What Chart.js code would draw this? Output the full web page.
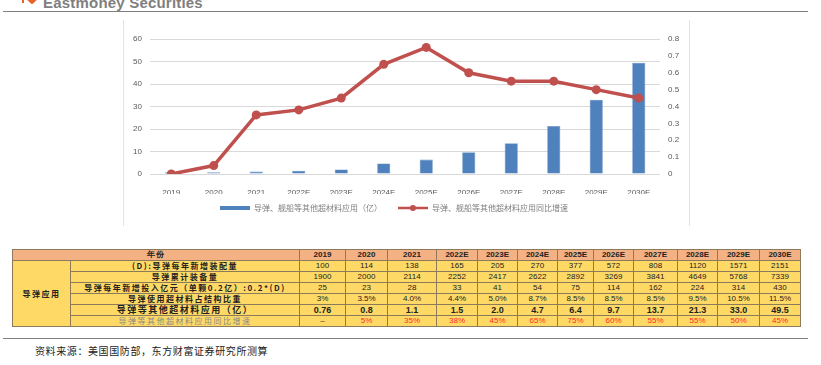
<!DOCTYPE html>
<html>
<head>
<meta charset="utf-8">
<script src="https://cdn.jsdelivr.net/npm/chart.js@4.4.0/dist/chart.umd.min.js"></script>
<style>
  html, body { margin: 0; padding: 0; background: #fff; }
  body { width: 821px; height: 365px; position: relative; overflow: hidden; font-family: "Liberation Sans", Arial, sans-serif; }
  #brand { position: absolute; left: 43px; top: -6px; font: bold 15px "Liberation Sans", Arial, sans-serif; color: #7f7f7f; letter-spacing: 0.2px; }
  #logo { position: absolute; left: 28px; top: -5px; width: 8px; height: 8px; background: #e8632a; transform: rotate(45deg); border-radius: 0 0 2px 0; }
  #logo2 { position: absolute; left: 22px; top: 0px; width: 2px; height: 3px; background: #e8632a; }
  #topline { position: absolute; left: 3px; top: 11px; width: 805px; height: 0; border-top: 1.5px solid #808080; }
  #chartbox { position: absolute; left: 123px; top: 20px; width: 565px; height: 206px; border-left: 1px solid #e3e3e3; border-right: 1px solid #e3e3e3; }
  #wrap { position: absolute; left: 123px; top: 22px; width: 566px; height: 200px; }
  table { position: absolute; left: 12px; top: 249px; border-collapse: collapse; table-layout: fixed; width: 788px; }
  td { height: 10px; padding: 0; border: 1px solid #8c7a5b; background: #ffd966; text-align: center; vertical-align: middle; font-size: 8px; line-height: 10px; color: #222; white-space: nowrap; overflow: hidden; font-family: "Liberation Sans", Arial, sans-serif; }
  tr.head td { background: #f4b183; font-weight: bold; font-family: "Liberation Sans", Arial, sans-serif; }
  td.cn { font-family: "Noto Sans CJK SC", sans-serif; font-weight: bold; letter-spacing: 1.5px; }
  tr.bold td { font-weight: bold; font-size: 9px; }
  tr.growth td { color: #ff2a2a; }
  tr.growth td.cn { color: #8a8a8a; font-weight: normal; }
  tr.growth td.dash { color: #333; }
  #botline { position: absolute; left: 3px; top: 338px; width: 805px; height: 0; border-top: 1.5px solid #808080; }
  #source { position: absolute; left: 35px; top: 343px; font: 10px "Noto Sans CJK SC", sans-serif; color: #222; letter-spacing: 0.6px; }
</style>
</head>
<body>
<div id="logo2"></div>
<div id="logo"></div>
<div id="brand">Eastmoney Securities</div>
<div id="topline"></div>
<div id="chartbox"></div>
<div id="wrap"><canvas id="c"></canvas></div>
<table id="tbl"></table>
<div id="botline"></div>
<div id="source">资料来源：美国国防部，东方财富证券研究所测算</div>
<script>
// ---- data ----
const categories = ["2019","2020","2021","2022E","2023E","2024E","2025E","2026E","2027E","2028E","2029E","2030E"];
const applicationValue = [0.76, 0.8, 1.1, 1.5, 2.0, 4.7, 6.4, 9.7, 13.7, 21.3, 33.0, 49.5];
const growthRate = [0, 0.05, 0.35, 0.38, 0.45, 0.65, 0.75, 0.60, 0.55, 0.55, 0.50, 0.45];
const barLabel = "导弹、舰船等其他超材料应用（亿）";
const lineLabel = "导弹、舰船等其他超材料应用同比增速";
const leftTicks = [0, 10, 20, 30, 40, 50, 60];
const rightTicks = [0, 0.1, 0.2, 0.3, 0.4, 0.5, 0.6, 0.7, 0.8];

const yearHeader = "年份";
const groupLabel = "导弹应用";
const rowLabels = ["(D):导弹每年新增装配量","导弹累计装备量","导弹每年新增投入亿元（单颗0.2亿）:0.2*(D)","导弹使用超材料占结构比重","导弹等其他超材料应用（亿）","导弹等其他超材料应用同比增速"];
const newUnits = ["100","114","138","165","205","270","377","572","808","1120","1571","2151"];
const cumulativeUnits = ["1900","2000","2114","2252","2417","2622","2892","3269","3841","4649","5768","7339"];
const investment = ["25","23","28","33","41","54","75","114","162","224","314","430"];
const materialShare = ["3%","3.5%","4.0%","4.4%","5.0%","8.7%","8.5%","8.5%","8.5%","9.5%","10.5%","11.5%"];
const applicationText = ["0.76","0.8","1.1","1.5","2.0","4.7","6.4","9.7","13.7","21.3","33.0","49.5"];
const growthText = ["–","5%","35%","38%","45%","65%","75%","60%","55%","55%","50%","45%"];

// ---- table ----
const colWidths = [58, 229, 46, 42, 49, 41, 40, 40, 36, 40, 44, 40, 42, 41];
const tbl = document.getElementById('tbl');
const cg = document.createElement('colgroup');
colWidths.forEach(w => { const c = document.createElement('col'); c.style.width = w + 'px'; cg.appendChild(c); });
tbl.appendChild(cg);
function addRow(cls, cells) {
  const tr = document.createElement('tr');
  if (cls) tr.className = cls;
  cells.forEach(c => {
    const td = document.createElement('td');
    td.textContent = c.t;
    if (c.cls) td.className = c.cls;
    if (c.cs) td.colSpan = c.cs;
    if (c.rs) td.rowSpan = c.rs;
    tr.appendChild(td);
  });
  tbl.appendChild(tr);
}
addRow('head', [{t: yearHeader, cs: 2, cls: 'cn'}].concat(categories.map(t => ({t}))));
const rowsData = [newUnits, cumulativeUnits, investment, materialShare, applicationText, growthText];
const rowCls = ['', '', '', '', 'bold', 'growth'];
rowsData.forEach((vals, i) => {
  let cells = [];
  if (i === 0) cells.push({t: groupLabel, rs: 6, cls: 'cn'});
  cells.push({t: rowLabels[i], cls: 'cn'});
  vals.forEach(v => cells.push({t: v, cls: v === '–' ? 'dash' : ''}));
  addRow(rowCls[i], cells);
});

// ---- legend swatches ----
const BLUE = '#4f81bd', RED = '#c0504d';
const blueSw = document.createElement('canvas'); blueSw.width = 30; blueSw.height = 4;
{ const g = blueSw.getContext('2d'); g.fillStyle = BLUE; g.fillRect(0, 0, 30, 4); }
const redSw = document.createElement('canvas'); redSw.width = 30; redSw.height = 8;
{ const g = redSw.getContext('2d'); g.strokeStyle = RED; g.lineWidth = 2.5; g.beginPath(); g.moveTo(0, 4); g.lineTo(30, 4); g.stroke(); g.fillStyle = RED; g.beginPath(); g.arc(15, 4, 3, 0, Math.PI * 2); g.fill(); }

const tickFont = { family: "'Liberation Sans', Arial, sans-serif", size: 8 };
new Chart(document.getElementById('c'), {
  data: {
    labels: categories,
    datasets: [
      { type: 'line', label: lineLabel + '\u3000\u3000\u3000', data: growthRate, yAxisID: 'y2', borderColor: RED, backgroundColor: RED, borderWidth: 3.5, pointRadius: 4.5, pointHoverRadius: 4.5, pointBackgroundColor: RED, pointBorderWidth: 0, tension: 0, order: 0 },
      { type: 'bar', label: barLabel + '\u3000 ', data: applicationValue, yAxisID: 'y', backgroundColor: BLUE, borderColor: '#6d97c9', borderWidth: 0.6, categoryPercentage: 1, barPercentage: 0.31, order: 1 }
    ]
  },
  options: {
    responsive: true, maintainAspectRatio: false, animation: false,
    layout: { padding: { top: 17, left: 0, right: 0, bottom: 0 } },
    plugins: {
      tooltip: { enabled: false },
      legend: {
        position: 'bottom',
        reverse: true,
        labels: {
          usePointStyle: true, pointStyleWidth: 30, padding: 10, color: '#808080',
          font: { family: "'Noto Sans CJK SC', sans-serif", size: 8 },
          generateLabels(chart) {
            const items = Chart.defaults.plugins.legend.labels.generateLabels(chart);
            items.forEach(it => { it.pointStyle = it.datasetIndex === 0 ? redSw : blueSw; it.lineWidth = 0; });
            return items;
          }
        }
      }
    },
    scales: {
      x: {
        grid: { display: false }, border: { display: false },
        ticks: { color: '#595959', font: tickFont, padding: 6, maxRotation: 0, autoSkip: false },
        afterFit(s) { s.height = 20; }
      },
      y: {
        position: 'left', min: 0, max: 60,
        afterBuildTicks(s) { s.ticks = leftTicks.map(v => ({ value: v })); },
        grid: { color: '#d9d9d9', lineWidth: 1, drawTicks: false }, border: { display: false },
        ticks: { color: '#595959', font: tickFont, padding: 8 },
        afterFit(s) { s.width = 27; }
      },
      y2: {
        position: 'right', min: 0, max: 0.8,
        afterBuildTicks(s) { s.ticks = rightTicks.map(v => ({ value: v })); },
        grid: { display: false, drawTicks: false }, border: { display: false },
        ticks: { color: '#595959', font: tickFont, padding: 8, callback: v => String(Math.round(v * 10) / 10) },
        afterFit(s) { s.width = 29; }
      }
    }
  }
});
</script>
</body>
</html>
